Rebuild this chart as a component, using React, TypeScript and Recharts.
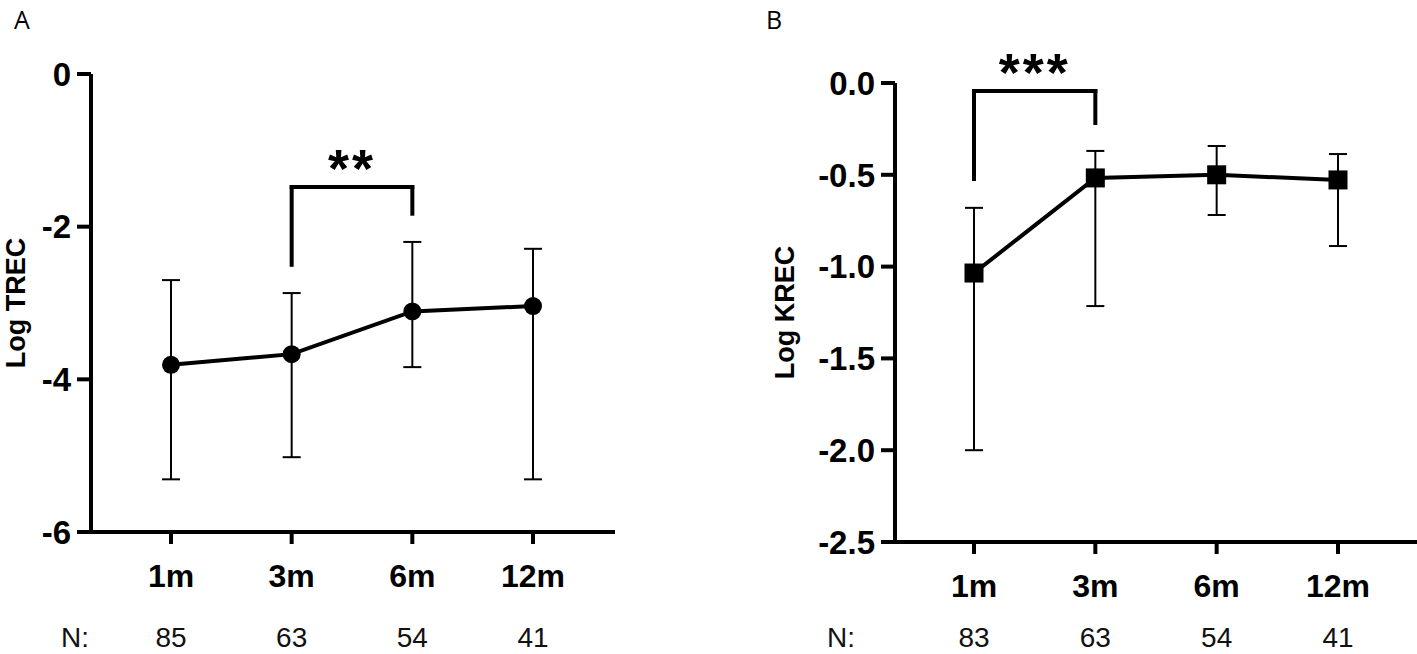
import React from 'react';
import { LineChart, Line, XAxis, YAxis, ErrorBar, ReferenceLine } from 'recharts';

const FONT = '"Liberation Sans", Arial, sans-serif';

const timepoints = ['1m', '3m', '6m', '12m'];

// Panel A: log TREC (mean with range)
const trecMean = [-3.81, -3.67, -3.11, -3.04];
const trecLow = [-5.31, -5.02, -3.84, -5.31];
const trecHigh = [-2.7, -2.87, -2.2, -2.29];
const trecN = [85, 63, 54, 41];
const trecTicks = [-6, -4, -2, 0];

// Panel B: log KREC
const krecMean = [-1.035, -0.517, -0.5, -0.528];
const krecLow = [-2.0, -1.215, -0.719, -0.888];
const krecHigh = [-0.68, -0.37, -0.343, -0.387];
const krecN = [83, 63, 54, 41];
const krecTicks = [-2.5, -2, -1.5, -1, -0.5, 0];

// significance brackets
const trecSig = { from: '3m', to: '6m', top: -1.48, fromEnd: -2.5, toEnd: -1.83, stars: '**' };
const krecSig = { from: '1m', to: '3m', top: -0.044, fromEnd: -0.523, toEnd: -0.218, stars: '***' };

function buildRows(mean: number[], low: number[], high: number[]) {
  return timepoints.map((t, i) => ({
    t,
    mean: mean[i],
    err: [mean[i] - low[i], high[i] - mean[i]],
  }));
}

const trecRows = buildRows(trecMean, trecLow, trecHigh);
const krecRows = buildRows(krecMean, krecLow, krecHigh);

const circleDot = (p: any) => <circle key={`c${p.index}`} cx={p.cx} cy={p.cy} r={9} fill="#000" />;
const squareDot = (p: any) => (
  <rect key={`s${p.index}`} x={p.cx - 9.5} y={p.cy - 9.5} width={19} height={19} fill="#000" />
);

function XTick(props: any) {
  const { x, y, payload, counts, nDy, nLabelDx } = props;
  const i = timepoints.indexOf(payload.value);
  return (
    <g fontFamily={FONT}>
      <text x={x} y={y} dy="0.71em" textAnchor="middle" fontSize={32} fontWeight={700} fill="#000">
        {payload.value}
      </text>
      <text x={x} y={y + nDy} textAnchor="middle" fontSize={28} fill="#111">
        {counts[i]}
      </text>
      {i === 0 && (
        <text x={x + nLabelDx} y={y + nDy} textAnchor="start" fontSize={28} fill="#111">
          N:
        </text>
      )}
    </g>
  );
}

function yTitle(text: string, baseX: number, fallbackY: number) {
  return (props: any) => {
    const vb = props.viewBox;
    const cy = vb && vb.height ? vb.y + vb.height / 2 : fallbackY;
    return (
      <text
        x={baseX}
        y={cy}
        transform={`rotate(-90, ${baseX}, ${cy})`}
        textAnchor="middle"
        fontSize={27}
        fontWeight={700}
        fill="#000"
        fontFamily={FONT}
      >
        {text}
      </text>
    );
  };
}

function Bracket(sig: any) {
  const common = { stroke: '#000', strokeWidth: 4, ifOverflow: 'visible' as const, strokeLinecap: 'square' as any };
  return [
    <ReferenceLine
      key="bar"
      segment={[{ x: sig.from, y: sig.top }, { x: sig.to, y: sig.top }]}
      {...common}
      label={{
        value: sig.stars,
        position: 'top',
        offset: 0,
        fontSize: 54,
        fontWeight: 700,
        fill: '#000',
        fontFamily: FONT,
        letterSpacing: 3,
      }}
    />,
    <ReferenceLine key="l" segment={[{ x: sig.from, y: sig.top }, { x: sig.from, y: sig.fromEnd }]} {...common} />,
    <ReferenceLine key="r" segment={[{ x: sig.to, y: sig.top }, { x: sig.to, y: sig.toEnd }]} {...common} />,
  ];
}

const axisStroke = { stroke: '#000', strokeWidth: 4 };
const panelLetter = {
  position: 'absolute' as const,
  top: 4,
  fontSize: 25,
  lineHeight: '30px',
  fontFamily: '"Open Sans", sans-serif',
  color: '#000',
};

export default function App() {
  return (
    <div
      style={{
        position: 'absolute',
        left: 0,
        top: 0,
        width: 1417,
        height: 654,
        background: '#fff',
        overflow: 'hidden',
        fontFamily: FONT,
      }}
    >
      <div style={{ ...panelLetter, left: 14 }}>A</div>
      <div style={{ ...panelLetter, left: 766 }}>B</div>

      <div style={{ position: 'absolute', left: 0, top: 0 }}>
        <LineChart width={700} height={654} data={trecRows} margin={{ top: 74, right: 85, bottom: 0, left: 0 }}>
          <XAxis
            dataKey="t"
            type="category"
            padding={{ left: 80, right: 82 }}
            axisLine={axisStroke}
            tickLine={axisStroke}
            tickSize={12}
            tickMargin={20}
            height={122}
            interval={0}
            tick={(p: any) => <XTick {...p} counts={trecN} nDy={83} nLabelDx={-110} />}
          />
          <YAxis
            type="number"
            domain={[-6, 0]}
            ticks={trecTicks}
            interval={0}
            width={91}
            allowDataOverflow
            axisLine={axisStroke}
            tickLine={axisStroke}
            tickSize={14}
            tickMargin={6}
            tick={{ fontSize: 33, fontWeight: 700, fill: '#000', fontFamily: FONT }}
            label={{ content: yTitle('Log TREC', 25, 303) }}
          />
          {Bracket(trecSig)}
          <Line
            dataKey="mean"
            type="linear"
            stroke="#000"
            strokeWidth={4}
            dot={circleDot}
            activeDot={false}
            isAnimationActive={false}
          >
            <ErrorBar dataKey="err" direction="y" width={9} stroke="#000" strokeWidth={2} isAnimationActive={false} />
          </Line>
        </LineChart>
      </div>

      <div style={{ position: 'absolute', left: 710, top: 0 }}>
        <LineChart width={707} height={654} data={krecRows} margin={{ top: 83, right: 0, bottom: 0, left: 0 }}>
          <XAxis
            dataKey="t"
            type="category"
            padding={{ left: 79, right: 79 }}
            axisLine={axisStroke}
            tickLine={axisStroke}
            tickSize={12}
            tickMargin={20}
            height={112}
            interval={0}
            tick={(p: any) => <XTick {...p} counts={krecN} nDy={73} nLabelDx={-147} />}
          />
          <YAxis
            type="number"
            domain={[-2.5, 0]}
            ticks={krecTicks}
            interval={0}
            width={185}
            allowDataOverflow
            axisLine={axisStroke}
            tickLine={axisStroke}
            tickSize={14}
            tickMargin={6}
            tickFormatter={(v: number) => v.toFixed(1)}
            tick={{ fontSize: 33, fontWeight: 700, fill: '#000', fontFamily: FONT }}
            label={{ content: yTitle('Log KREC', 84, 312) }}
          />
          {Bracket(krecSig)}
          <Line
            dataKey="mean"
            type="linear"
            stroke="#000"
            strokeWidth={4}
            dot={squareDot}
            activeDot={false}
            isAnimationActive={false}
          >
            <ErrorBar dataKey="err" direction="y" width={9} stroke="#000" strokeWidth={2} isAnimationActive={false} />
          </Line>
        </LineChart>
      </div>
    </div>
  );
}
